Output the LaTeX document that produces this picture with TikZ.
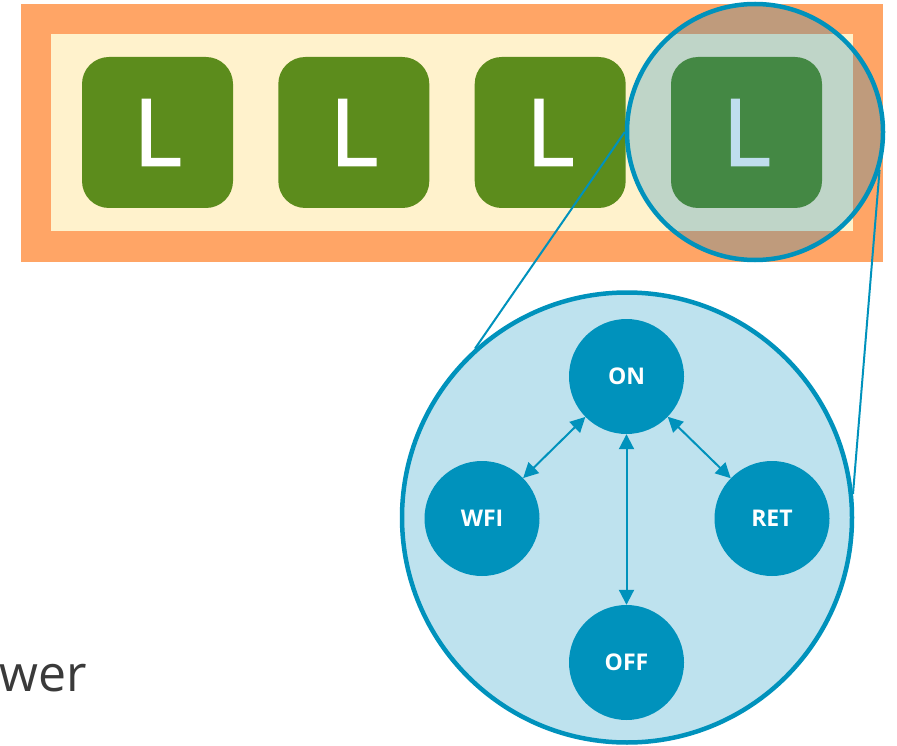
\documentclass[tikz,border=0pt]{standalone}
\usepackage{fontspec}
\setmainfont{Open Sans}
\usetikzlibrary{arrows.meta}
\definecolor{frameorange}{HTML}{FFA566}
\definecolor{cream}{HTML}{FFF2CC}
\definecolor{leafgreen}{HTML}{5C8C1C}
\definecolor{teal}{HTML}{0092BC}
\definecolor{lens}{RGB}{0,127,190}
\definecolor{paleblue}{HTML}{BEE2EE}
\definecolor{inkgray}{HTML}{3A3A3A}
\newfontfamily\cellfont{Open Sans}[FakeBold=1.6]
\tikzset{
  lbox/.style={fill=leafgreen, rounded corners=27pt, minimum width=151pt,
    minimum height=151pt, inner sep=0pt, text=white,
    font=\cellfont\fontsize{93}{93}\selectfont},
  state/.style={circle, fill=teal, minimum size=115pt, inner sep=0pt,
    text=white, font=\bfseries\fontsize{23}{23}\selectfont},
  conn/.style={draw=teal, line width=2pt},
  trans/.style={draw=teal, line width=2pt,
    {Triangle[length=15pt,width=15pt]}-{Triangle[length=15pt,width=15pt]}},
}
\begin{document}
\begin{tikzpicture}[x=1pt,y=-1pt]
  \useasboundingbox (0,0) rectangle (897,746);
  % frame with four leaf cells
  \fill[frameorange] (21,4) rectangle (883,262);
  \fill[cream] (51,34) rectangle (853,231);
  \node[lbox] (l1) at (157.5,132.5) {L};
  \node[lbox] (l2) at (353.8,132.5) {L};
  \node[lbox] (l3) at (550.2,132.5) {L};
  \node[lbox] (l4) at (746.5,132.5) {L};
  % magnifying lens over the last cell
  \node[circle, minimum size=256pt, inner sep=0pt, line width=4.5pt,
    draw=teal, fill=lens, fill opacity=0.25, draw opacity=1] (mag) at (755,132) {};
  % enlarged view
  \node[circle, minimum size=450pt, inner sep=0pt, line width=4.5pt,
    draw=teal, fill=paleblue] (big) at (627,517.5) {};
  \draw[conn] (mag.180) -- (big.132);
  \draw[conn] (mag.-17) -- (big.6);
  % power states
  \node[state] (on)  at (626.5,376.5) {ON};
  \node[state] (wfi) at (482,518.5) {WFI};
  \node[state] (ret) at (772,518.5) {RET};
  \node[state] (off) at (626.5,662.5) {OFF};
  \draw[trans] (on) -- (wfi);
  \draw[trans] (on) -- (ret);
  \draw[trans] (on) -- (off);
  % label
  \node[anchor=base west, inner sep=0pt, text=inkgray,
    font=\fontsize{50}{50}\selectfont] (lbl) at (-1,691) {wer};
\end{tikzpicture}
\end{document}
